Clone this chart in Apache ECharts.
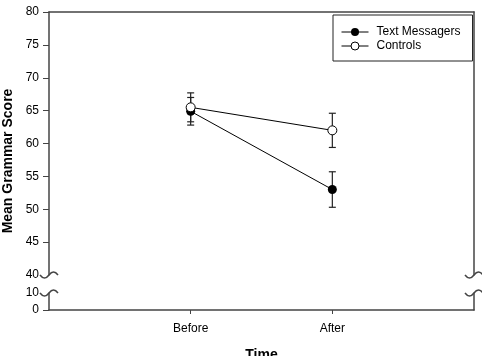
<!DOCTYPE html>
<html>
<head>
<meta charset="utf-8">
<script src="https://cdn.jsdelivr.net/npm/echarts@6/dist/echarts.min.js"></script>
<style>
  html, body {margin: 0; padding: 0; background: #fff;}
  #chart {width: 482px; height: 356px;}
</style>
</head>
<body>
<div id="chart"></div>
<script>
const categories = ['', 'Before', 'After', ''];
const timePoints = ['Before', 'After'];
const textMessagers = [64.9, 53.0];
const textMessagersErr = [2.1, 2.7];
const controls = [65.5, 62.0];
const controlsErr = [2.2, 2.6];
const upperTicks = [40, 45, 50, 55, 60, 65, 70, 75, 80];
const lowerTicks = [0, 10];

const font = 'Liberation Sans, Arial, sans-serif';
const axisColor = '#444';
const axisLine = {show: true, lineStyle: {color: axisColor, width: 1.5}};

const chart = echarts.init(document.getElementById('chart'));

const pairs = vals => timePoints.map((t, i) => [t, vals[i]]);
const errRows = (vals, errs) => timePoints.map((t, i) => [t, vals[i] - errs[i], vals[i] + errs[i]]);

// vertical bar with caps, drawn through the axis scale
const renderErrorBar = (params, api) => {
  const lo = api.coord([api.value(0), api.value(1)]);
  const hi = api.coord([api.value(0), api.value(2)]);
  const half = 3.5;
  const style = {stroke: '#222', lineWidth: 1.2};
  return {
    type: 'group',
    children: [
      {type: 'line', shape: {x1: lo[0], y1: lo[1], x2: hi[0], y2: hi[1]}, style},
      {type: 'line', shape: {x1: lo[0] - half, y1: lo[1], x2: lo[0] + half, y2: lo[1]}, style},
      {type: 'line', shape: {x1: hi[0] - half, y1: hi[1], x2: hi[0] + half, y2: hi[1]}, style}
    ]
  };
};

const yTitle = {
  type: 'text', x: 8, y: 161, rotation: Math.PI / 2,
  style: {text: 'Mean Grammar Score', font: 'bold 14px ' + font, fill: '#000', align: 'center', verticalAlign: 'middle'}
};

chart.setOption({
  animation: false,
  textStyle: {fontFamily: font},
  grid: [
    {left: 49, right: 8, top: 12, height: 263, outerBoundsMode: 'none'},
    {left: 49, right: 8, top: 293, height: 17, outerBoundsMode: 'none'}
  ],
  legend: {
    data: ['Text Messagers', 'Controls'],
    orient: 'vertical',
    left: 333,
    top: 15,
    padding: [10, 12, 8, 8],
    itemGap: 0,
    itemWidth: 27,
    itemHeight: 10,
    borderColor: '#222',
    borderWidth: 1,
    lineStyle: {width: 1},
    itemStyle: {borderWidth: 1},
    textStyle: {color: '#000', fontSize: 12, lineHeight: 14, padding: [0, 0, 0, 3], fontFamily: font}
  },
  xAxis: [
    {
      gridIndex: 0, type: 'category', data: categories, boundaryGap: false, position: 'top',
      axisLine, axisTick: {show: false}, axisLabel: {show: false}
    },
    {
      gridIndex: 1, type: 'category', data: categories, boundaryGap: false, position: 'bottom',
      axisLine,
      axisTick: {show: true, length: 4, interval: (i) => i === 1 || i === 2, lineStyle: {color: axisColor}},
      axisLabel: {interval: 0, margin: 13, color: '#000', fontSize: 12},
      name: 'Time', nameLocation: 'middle', nameGap: 38,
      nameTextStyle: {color: '#000', fontSize: 14, fontWeight: 'bold'}
    }
  ],
  yAxis: [
    {
      gridIndex: 0, type: 'value', min: upperTicks[0], max: upperTicks[upperTicks.length - 1], interval: 5,
      axisLine, splitLine: {show: false},
      axisTick: {show: true, length: 6, customValues: upperTicks.slice(1), lineStyle: {color: axisColor}},
      axisLabel: {color: '#000', fontSize: 12, margin: 10, customValues: upperTicks}
    },
    {
      gridIndex: 0, type: 'value', position: 'right', min: 40, max: 80,
      axisLine, splitLine: {show: false}, axisTick: {show: false}, axisLabel: {show: false}
    },
    {
      gridIndex: 1, type: 'value', min: lowerTicks[0], max: lowerTicks[1], interval: 10,
      axisLine, splitLine: {show: false},
      axisTick: {show: true, length: 6, customValues: [0], lineStyle: {color: axisColor}},
      axisLabel: {color: '#000', fontSize: 12, margin: 10, customValues: lowerTicks, hideOverlap: false}
    },
    {
      gridIndex: 1, type: 'value', position: 'right', min: 0, max: 10,
      axisLine, splitLine: {show: false}, axisTick: {show: false}, axisLabel: {show: false}
    }
  ],
  series: [
    {
      type: 'custom', name: 'err1', xAxisIndex: 0, yAxisIndex: 0, z: 1,
      renderItem: renderErrorBar, data: errRows(textMessagers, textMessagersErr)
    },
    {
      type: 'custom', name: 'err2', xAxisIndex: 0, yAxisIndex: 0, z: 1,
      renderItem: renderErrorBar, data: errRows(controls, controlsErr)
    },
    {
      type: 'line', name: 'Text Messagers', xAxisIndex: 0, yAxisIndex: 0, z: 3,
      data: pairs(textMessagers), symbol: 'circle', symbolSize: 9,
      itemStyle: {color: '#000'}, lineStyle: {color: '#000', width: 1},
      emphasis: {disabled: true}
    },
    {
      type: 'line', name: 'Controls', xAxisIndex: 0, yAxisIndex: 0, z: 4,
      data: pairs(controls), symbol: 'circle', symbolSize: 9,
      itemStyle: {color: '#fff', borderColor: '#000', borderWidth: 1},
      lineStyle: {color: '#000', width: 1},
      emphasis: {disabled: true}
    }
  ],
  graphic: [yTitle]
});

// break marks on both side axes
const xl = chart.convertToPixel({xAxisIndex: 1}, 0);
const xr = chart.convertToPixel({xAxisIndex: 1}, 3);
const yTop = chart.convertToPixel({yAxisIndex: 0}, 40);
const yBot = chart.convertToPixel({yAxisIndex: 2}, 10);
const squiggle = (x, y) => [
  {type: 'bezierCurve', shape: {x1: x - 9, y1: y, cpx1: x - 6, cpy1: y + 4, cpx2: x - 3, cpy2: y + 4, x2: x, y2: y},
    style: {stroke: axisColor, lineWidth: 1.5, fill: null}},
  {type: 'bezierCurve', shape: {x1: x, y1: y, cpx1: x + 3, cpy1: y - 4, cpx2: x + 6, cpy2: y - 4, x2: x + 9, y2: y},
    style: {stroke: axisColor, lineWidth: 1.5, fill: null}}
];
chart.setOption({
  graphic: [
    yTitle,
    ...squiggle(xl, yTop), ...squiggle(xl, yBot), ...squiggle(xr, yTop), ...squiggle(xr, yBot)
  ]
});
</script>
</body>
</html>
